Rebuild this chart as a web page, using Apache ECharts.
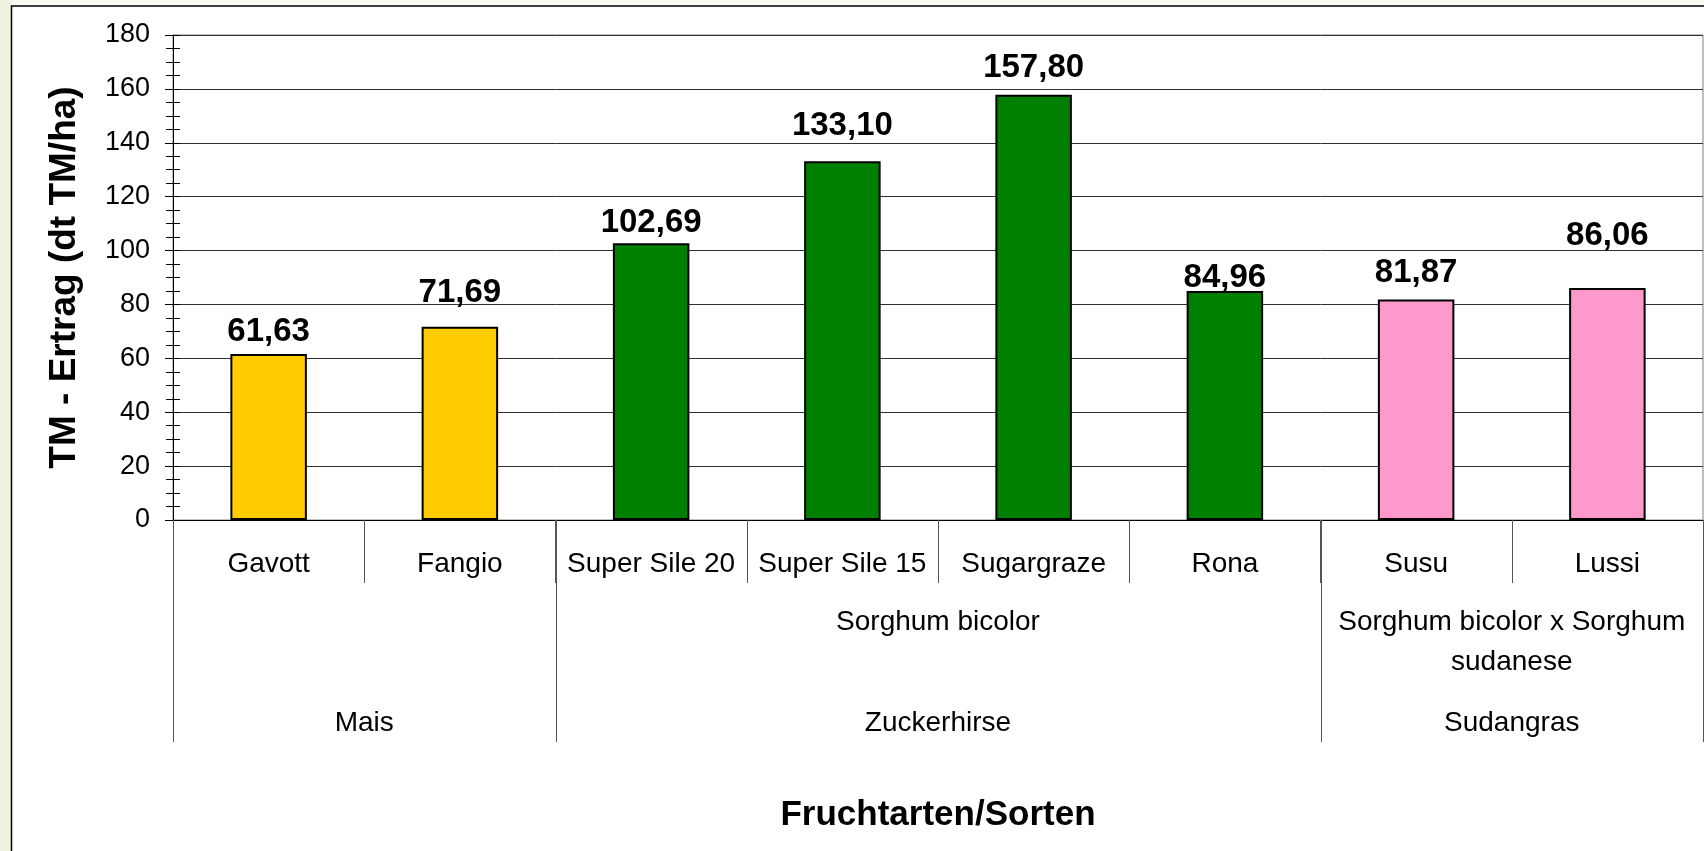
<!DOCTYPE html>
<html>
<head>
<meta charset="utf-8">
<script src="https://cdn.jsdelivr.net/npm/echarts@6/dist/echarts.min.js"></script>
<style>
  html, body { margin: 0; padding: 0; background: #ffffff; }
  #chart { width: 1704px; height: 851px; }
</style>
</head>
<body>
<div id="chart"></div>
<script>
// ---- data ----
const categories = ['Gavott', 'Fangio', 'Super Sile 20', 'Super Sile 15', 'Sugargraze', 'Rona', 'Susu', 'Lussi'];
const yieldValues = [61.63, 71.69, 102.69, 133.10, 157.80, 84.96, 81.87, 86.06];
const speciesLabels = ['', 'Sorghum bicolor', 'Sorghum bicolor x Sorghum\nsudanese'];
const speciesSpans = [2, 4, 2];
const cropLabels = ['Mais', 'Zuckerhirse', 'Sudangras'];
const cropSpans = [2, 4, 2];
const yMin = 0, yMax = 180, yStep = 20;
const yTitle = 'TM - Ertrag (dt TM/ha)';
const xTitle = 'Fruchtarten/Sorten';

// ---- style / layout (separate from data) ----
const cropColors = ['#FFCC00', '#008000', '#FF99CC'];
const labelLift = [6, 17, 4, 19, 10, -3, 10, 36];
const FONT = 'Liberation Sans, Arial, sans-serif';

const barColors = [];
cropSpans.forEach((n, gi) => { for (let k = 0; k < n; k++) barColors.push(cropColors[gi]); });

const chart = echarts.init(document.getElementById('chart'), null, { renderer: 'canvas' });

const option = {
  backgroundColor: '#ffffff',
  animation: false,
  grid: {
    left: 173, right: 1, top: 35, bottom: 331,
    show: true, backgroundColor: '#ffffff', borderColor: '#808080', borderWidth: 1,
    containLabel: false
  },
  xAxis: [{
    type: 'category',
    data: categories,
    boundaryGap: true,
    axisLine: { show: true, lineStyle: { color: '#000', width: 1 } },
    axisTick: { show: true, interval: 0, alignWithLabel: false, length: 63, lineStyle: { color: '#555', width: 1 } },
    axisLabel: { interval: 0, margin: 30, fontFamily: FONT, fontSize: 28, lineHeight: 28, color: '#000' },
    splitLine: { show: false },
    name: xTitle,
    nameLocation: 'middle',
    nameGap: 278,
    nameTextStyle: { fontFamily: FONT, fontSize: 35, fontWeight: 'bold', color: '#000' }
  }],
  yAxis: [{
    type: 'value',
    min: yMin, max: yMax, interval: yStep,
    position: 'left',
    axisLine: { show: true, lineStyle: { color: '#000', width: 1 } },
    axisTick: { show: true, inside: false, length: 8, lineStyle: { color: '#000' } },
    minorTick: { show: true, splitNumber: 4, length: 7, lineStyle: { color: '#000' } },
    axisLabel: { margin: 23, fontFamily: FONT, fontSize: 27, color: '#000' },
    splitLine: { show: true, lineStyle: { color: '#303030', width: 1 } },
    name: yTitle,
    nameLocation: 'middle',
    nameGap: 90,
    nameTextStyle: { fontFamily: FONT, fontSize: 37, fontWeight: 'bold', color: '#000' }
  }, {
    type: 'value',
    min: yMin, max: yMax, interval: yStep,
    position: 'left',
    axisLine: { show: false },
    axisTick: { show: true, inside: true, length: 7, lineStyle: { color: '#000' } },
    minorTick: { show: true, splitNumber: 4, length: 7, lineStyle: { color: '#000' } },
    axisLabel: { show: false },
    splitLine: { show: false }
  }],
  series: [{
    type: 'bar',
    xAxisIndex: 0,
    yAxisIndex: 0,
    barWidth: '40%',
    data: yieldValues.map((v, i) => ({
      value: v,
      itemStyle: { color: barColors[i] },
      label: { offset: [0, -labelLift[i]] }
    })),
    itemStyle: { borderColor: '#000', borderWidth: 2 },
    label: {
      show: true,
      position: 'top',
      distance: 0,
      fontFamily: FONT,
      fontSize: 33,
      lineHeight: 33,
      fontWeight: 'bold',
      color: '#000',
      formatter: p => p.value.toFixed(2).replace('.', ',')
    }
  }]
};

chart.setOption(option);

// ---- hierarchical category labels & frame, positioned via the axis scale ----
function buildGraphics() {
  const c0 = chart.convertToPixel({ xAxisIndex: 0 }, 0);
  const c1 = chart.convertToPixel({ xAxisIndex: 0 }, 1);
  const band = c1 - c0;
  const boundary = i => c0 - band / 2 + i * band;
  const baseY = chart.convertToPixel({ yAxisIndex: 0 }, yMin);
  const sepBottom = baseY + 222;
  const speciesY = baseY + 102;
  const cropY = baseY + 203;

  const g = [];
  // page frame
  g.push({ type: 'rect', silent: true, z: -10, shape: { x: 0, y: 0, width: 1704, height: 851 }, style: { fill: '#fafaf3' } });
  g.push({ type: 'rect', silent: true, z: -10, shape: { x: 0, y: 0, width: 12, height: 851 }, style: { fill: '#eef3e0' } });
  g.push({ type: 'rect', silent: true, z: -9, shape: { x: 11.5, y: 6, width: 1700, height: 850 }, style: { fill: '#ffffff', stroke: '#000', lineWidth: 1.5 } });

  // long separators at group boundaries
  const longB = [0];
  let acc = 0;
  cropSpans.forEach(n => { acc += n; longB.push(acc); });
  longB.forEach(b => {
    const x = Math.round(boundary(b)) + 0.5;
    g.push({ type: 'line', silent: true, z: 5, shape: { x1: x, y1: baseY, x2: x, y2: sepBottom }, style: { stroke: '#555', lineWidth: 1 } });
  });

  // species labels (level 2)
  let start = 0;
  speciesSpans.forEach((n, i) => {
    const cx = (boundary(start) + boundary(start + n)) / 2;
    if (speciesLabels[i]) {
      g.push({ type: 'text', silent: true, z: 5, x: cx, y: speciesY - 20,
        style: { text: speciesLabels[i], fontFamily: FONT, fontSize: 28, lineHeight: 40, fill: '#000', align: 'center', verticalAlign: 'top' } });
    }
    start += n;
  });
  // crop labels (level 3)
  start = 0;
  cropSpans.forEach((n, i) => {
    const cx = (boundary(start) + boundary(start + n)) / 2;
    g.push({ type: 'text', silent: true, z: 5, x: cx, y: cropY,
      style: { text: cropLabels[i], fontFamily: FONT, fontSize: 28, fill: '#000', align: 'center', verticalAlign: 'middle' } });
    start += n;
  });
  chart.setOption({ graphic: g });
}
buildGraphics();
</script>
</body>
</html>
